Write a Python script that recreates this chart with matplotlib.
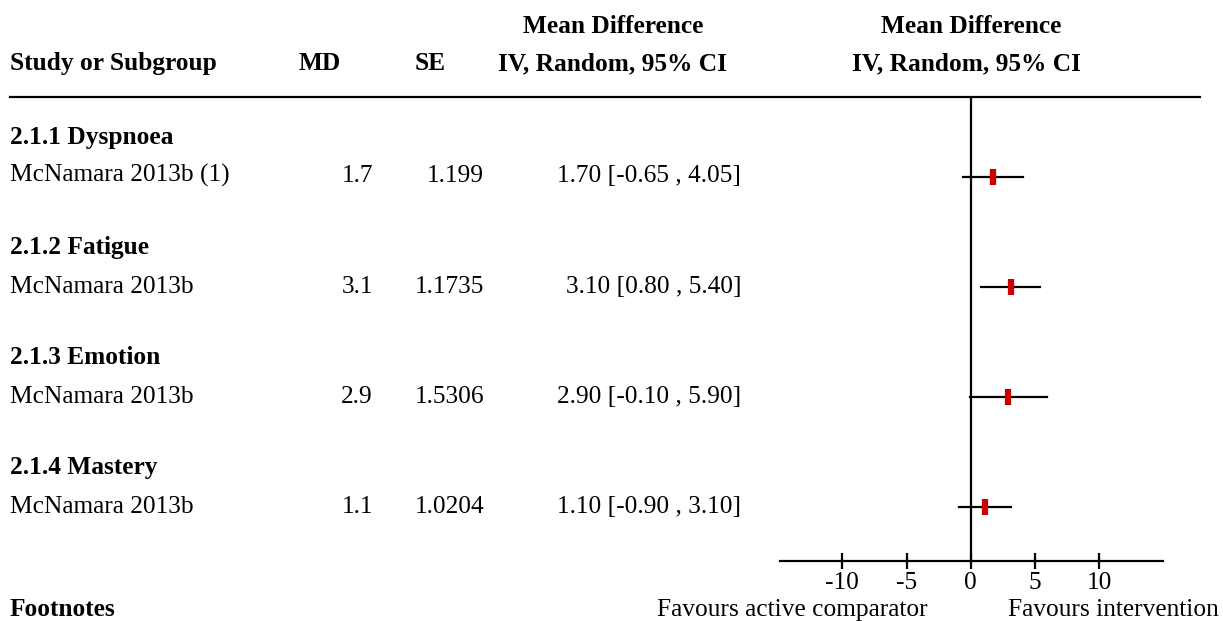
import matplotlib.pyplot as plt
from matplotlib.lines import Line2D

plt.rcParams['font.family'] = ['Liberation Serif', 'DejaVu Serif']

# forest plot data
subgroups = ['2.1.1 Dyspnoea', '2.1.2 Fatigue', '2.1.3 Emotion', '2.1.4 Mastery']
studies = ['McNamara 2013b (1)', 'McNamara 2013b', 'McNamara 2013b', 'McNamara 2013b']
md = [1.7, 3.1, 2.9, 1.1]
se_labels = ['1.199', '1.1735', '1.5306', '1.0204']
ci_low = [-0.65, 0.80, -0.10, -0.90]
ci_high = [4.05, 5.40, 5.90, 3.10]
ticks = [-10, -5, 0, 5, 10]

W, H = 1223, 621
fs = 18.3
red = '#CC0000'


def fx(px):
    return px / W


def fy(py):
    return 1 - py / H


fig = plt.figure(figsize=(W / 100, H / 100), dpi=100)

# header
hdr = dict(fontsize=fs, fontweight='bold', va='baseline')
fig.text(fx(10), fy(70), 'Study or Subgroup', ha='left', **hdr)
fig.text(fx(320), fy(70), 'MD', ha='center', **hdr)
fig.text(fx(430), fy(70), 'SE', ha='center', **hdr)
fig.text(fx(613), fy(33), 'Mean Difference', ha='center', **hdr)
fig.text(fx(613), fy(70), 'IV, Random, 95% CI', ha='center', **hdr)
fig.text(fx(971), fy(33), 'Mean Difference', ha='center', **hdr)
fig.text(fx(966), fy(70), 'IV, Random, 95% CI', ha='center', **hdr)

fig.add_artist(Line2D([fx(10), fx(1200)], [fy(97), fy(97)], color='black', lw=1.6))

# table rows
sub_base = [144, 254, 364, 474]
row_base = [182, 293, 403, 513]
row_y = [177, 287, 397, 507]
for i in range(len(studies)):
    fig.text(fx(10), fy(sub_base[i]), subgroups[i], fontsize=fs, fontweight='bold', va='baseline')
    fig.text(fx(10), fy(row_base[i]), studies[i], fontsize=fs, va='baseline')
    fig.text(fx(373), fy(row_base[i]), str(md[i]), fontsize=fs, ha='right', va='baseline')
    fig.text(fx(484), fy(row_base[i]), se_labels[i], fontsize=fs, ha='right', va='baseline')
    ci_txt = f'{md[i]:.2f} [{ci_low[i]:.2f} , {ci_high[i]:.2f}]'
    fig.text(fx(741), fy(row_base[i]), ci_txt, fontsize=fs, ha='right', va='baseline')

# forest panel
ax = fig.add_axes([fx(780), fy(561), fx(1163) - fx(780), fy(97) - fy(561)])
ax.set_xlim(-14.85, 14.95)
ax.set_ylim(561, 97)
for s in ['top', 'left', 'right']:
    ax.spines[s].set_visible(False)
ax.spines['bottom'].set_linewidth(1.6)
ax.axvline(0, color='black', lw=1.6)
for i in range(len(md)):
    ax.plot([ci_low[i], ci_high[i]], [row_y[i], row_y[i]], color='black', lw=1.6)
    ax.plot(md[i], row_y[i], marker='|', color=red, markersize=12, markeredgewidth=4.5)
ax.set_yticks([])
ax.set_xticks(ticks)
ax.set_xticklabels([str(t) for t in ticks])
ax.tick_params(axis='x', direction='inout', length=11, width=1.6, labelsize=fs, pad=2.5)

fig.text(fx(10), fy(616), 'Footnotes', fontsize=fs, fontweight='bold', va='baseline')
fig.text(fx(928), fy(616), 'Favours active comparator', fontsize=fs, ha='right', va='baseline')
fig.text(fx(1008), fy(616), 'Favours intervention', fontsize=fs, ha='left', va='baseline')

fig.savefig('out.png', dpi=100, facecolor='white')
